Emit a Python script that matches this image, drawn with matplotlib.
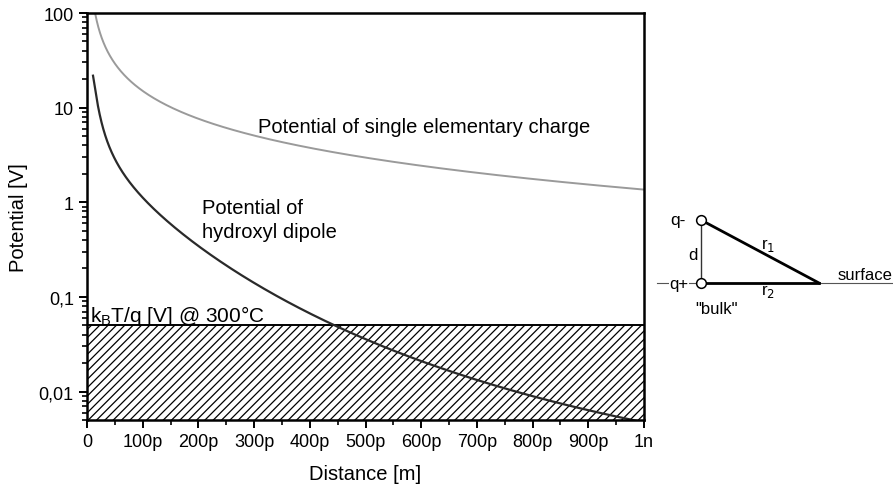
import numpy as np
import matplotlib
matplotlib.use('Agg')
import matplotlib.pyplot as plt
from matplotlib.ticker import FixedLocator, LogLocator, NullFormatter, MultipleLocator

plt.rcParams['font.family'] = ['Liberation Sans', 'DejaVu Sans']
plt.rcParams['hatch.linewidth'] = 0.9

# distance in pm, potential in V
x_single = [15, 30, 60, 120, 180, 239, 299, 347, 466, 586, 706, 825, 1000]
v_single = [100, 45, 24.5, 13.0, 8.9, 6.4, 5.2, 4.3, 3.07, 2.41, 1.97, 1.68, 1.45]

x_dipole = [10.8, 18, 30, 48, 72, 102, 138, 174, 203, 239, 275, 323, 370, 412, 442,
            484, 526, 646, 765, 885, 969, 985]
v_dipole = [21.9, 11.5, 5.87, 3.07, 1.75, 1.08, 0.66, 0.46, 0.347, 0.232, 0.168, 0.116,
            0.0844, 0.0662, 0.0495, 0.039, 0.0307, 0.0168, 0.0099, 0.0066, 0.0052, 0.005]

kT_level = 0.05
x_ticks = [0, 100, 200, 300, 400, 500, 600, 700, 800, 900, 1000]
x_labels = ['0', '100p', '200p', '300p', '400p', '500p', '600p', '700p', '800p', '900p', '1n']
y_ticks = [0.01, 0.1, 1, 10, 100]
y_labels = ['0,01', '0,1', '1', '10', '100']

W, H = 893, 489
fig = plt.figure(figsize=(W / 100, H / 100), dpi=100)
ax = fig.add_axes([87 / W, 1 - 421 / H, (644 - 87) / W, (421 - 14) / H])


def smooth(xs, ys, deg=4, n=400):
    # least-squares smoothing of the read points in log-log space (reading noise only)
    lx, ly = np.log10(xs), np.log10(ys)
    p = np.polyfit(lx, ly, deg)
    gx = np.linspace(lx[0], lx[-1], n)
    return 10 ** gx, 10 ** np.polyval(p, gx)


ax.fill_between([0, 1000], 0.005, kT_level, facecolor='white', edgecolor='black',
                hatch='////', linewidth=0)
ax.axhline(kT_level, color='black', lw=1.4)

xs, ys = smooth(x_single, v_single, deg=3)
ax.plot(xs, ys, color='#9a9a9a', lw=1.4)
xd, yd = smooth(x_dipole, v_dipole, deg=5)
ax.plot(xd, yd, color='#2a2a2a', lw=1.6)

ax.set_yscale('log')
ax.set_xlim(0, 1000)
ax.set_ylim(0.005, 100)
ax.xaxis.set_major_locator(FixedLocator(x_ticks))
ax.xaxis.set_minor_locator(MultipleLocator(50))
ax.set_xticklabels(x_labels)
ax.yaxis.set_major_locator(FixedLocator(y_ticks))
ax.yaxis.set_minor_locator(LogLocator(base=10, subs=np.arange(2, 10)))
ax.yaxis.set_minor_formatter(NullFormatter())
ax.set_yticklabels(y_labels)
ax.tick_params(which='major', direction='out', length=6, width=1.4, labelsize=13)
ax.tick_params(which='minor', direction='out', length=3.5, width=1.2)
for s in ax.spines.values():
    s.set_linewidth(1.8)

ax.set_xlabel('Distance [m]', fontsize=14.5, labelpad=10)
ax.set_ylabel('Potential [V]', fontsize=14.5, labelpad=8)

ax.text(307, 6.3, 'Potential of single elementary charge', fontsize=14.5, ha='left', va='center')
ax.text(206, 0.66, 'Potential of\nhydroxyl dipole', fontsize=14.5, ha='left', va='center',
        linespacing=1.3)
ax.text(5, 0.0559, r'k$_\mathregular{B}$T/q [V] @ 300°C', fontsize=15, ha='left', va='baseline')

# dipole sketch, in figure pixels
d = fig.add_axes([0, 0, 1, 1], facecolor='none')
d.set_xlim(0, W)
d.set_ylim(H, 0)
d.axis('off')
qm = (701, 221)
qp = (701, 284)
apex = (819, 284)
d.plot([657, W], [284, 284], color='#555555', lw=0.8)
d.plot([qm[0], qp[0]], [qm[1], qp[1]], color='#333333', lw=1.0)
d.plot([qm[0], apex[0]], [qm[1], apex[1]], color='black', lw=2.0)
d.plot([qp[0], apex[0]], [qp[1], apex[1]], color='black', lw=2.0)
d.plot(*qm, 'o', ms=7, mfc='white', mec='black', mew=1.1)
d.plot(*qp, 'o', ms=7, mfc='white', mec='black', mew=1.1)
d.text(678, 221, 'q-', fontsize=12.5, ha='center', va='center')
d.text(679, 284, 'q+', fontsize=12, ha='center', va='center',
       bbox=dict(facecolor='white', edgecolor='none', pad=0.5))
d.text(693, 255, 'd', fontsize=12, ha='center', va='center')
d.text(768, 246, r'r$_1$', fontsize=12, ha='center', va='center')
d.text(768, 292, r'r$_2$', fontsize=12, ha='center', va='center')
d.text(892, 275, 'surface', fontsize=12, ha='right', va='center')
d.text(716, 309, '"bulk"', fontsize=12, ha='center', va='center')

fig.savefig('out.png', dpi=100)
